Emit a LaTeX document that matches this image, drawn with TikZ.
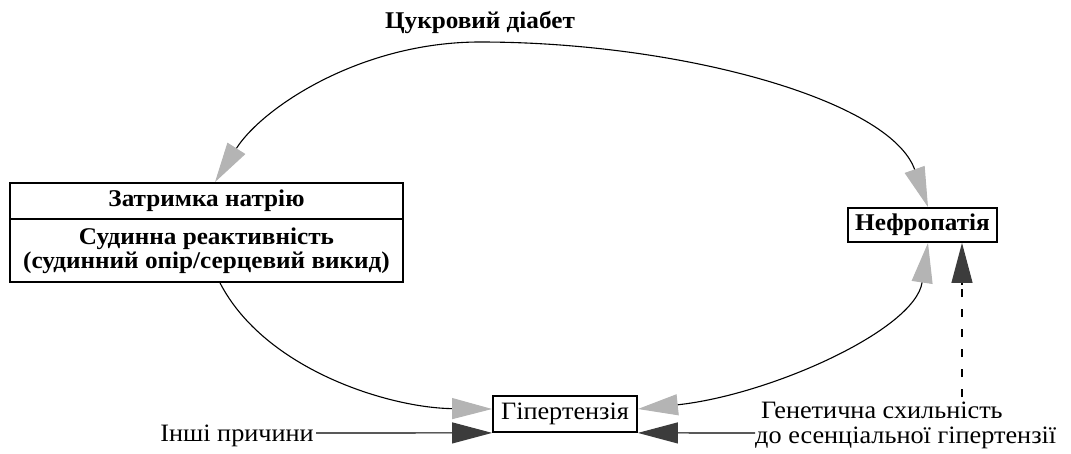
\documentclass[tikz,border=0pt]{standalone}
\usepackage{fontspec}
\setmainfont[FakeStretch=1.05]{Liberation Serif}
\usetikzlibrary{arrows.meta}
\definecolor{lightar}{HTML}{B4B4B4}
\definecolor{darkar}{HTML}{3C3C3C}
\begin{document}
\begin{tikzpicture}[x=1pt,y=-1pt,
  every node/.style={font=\fontsize{25}{25}\selectfont, inner sep=0pt},
  bfnode/.style={font=\fontsize{24}{24}\selectfont\bfseries},
  boxn/.style={draw, line width=1.8pt, align=center},
  conn/.style={line width=1.1pt},
  lhead/.style={-{Triangle[length=40pt,width=21pt,fill=lightar,color=lightar]}},
  dhead/.style={-{Triangle[length=40pt,width=21pt,fill=darkar,color=darkar]}},
  lboth/.style={{Triangle[length=40pt,width=21pt,fill=lightar,color=lightar]}-{Triangle[length=40pt,width=21pt,fill=lightar,color=lightar]}},
]
\useasboundingbox (0,0) rectangle (1071,453);
\node[bfnode] (diab) at (480,22) {Цукровий діабет};
\node[boxn, bfnode, minimum width=393pt, minimum height=36pt] (zat) at (206.5,201) {Затримка натрію};
\node[boxn, bfnode, minimum width=393pt, minimum height=63pt] (sud) at (206.5,250.5) {Судинна реактивність\\(судинний опір/серцевий викид)};
\node[boxn, bfnode, minimum width=149pt, minimum height=34pt] (nef) at (922.5,225) {Нефропатія};
\node[boxn, minimum width=144pt, minimum height=36pt] (hip) at (565,414) {Гіпертензія};
\node[anchor=east] (oth) at (314,436) {Інші причини};
\node[anchor=west, align=left] (gen) at (755,425) {\hspace*{6pt}Генетична схильність\\до есенціальної гіпертензії};
\coordinate (apex) at (480,42);
% top arc (double headed)
\draw[conn, lboth] (zat.north -| 215,0) .. controls (262,108) and (360,42) .. (apex)
   .. controls (680,42) and (890,100) .. (nef.north -| 928,0);
% left lower arc
\draw[conn, lhead] (sud.south -| 220,0) .. controls (265,370) and (390,408) .. (hip.west |- 0,409);
% right lower arc
\draw[conn, lboth] (hip.east |- 0,409) .. controls (770,395) and (915,330) .. (nef.south -| 928,0);
% other causes
\coordinate (othe) at (316,433);
\draw[conn, dhead] (othe) -- (hip.south west);
\coordinate (gene) at (755,433);
\draw[conn, dhead] (gene) -- (hip.south east);
% dashed
\coordinate (gtop) at (962,397);
\coordinate (gmid) at (962,285);
\draw[conn, dash pattern=on 8pt off 12pt] (gtop) -- (gmid);
\draw[conn, dhead] (gmid) -- (nef.south -| 962,0);
\end{tikzpicture}
\end{document}
